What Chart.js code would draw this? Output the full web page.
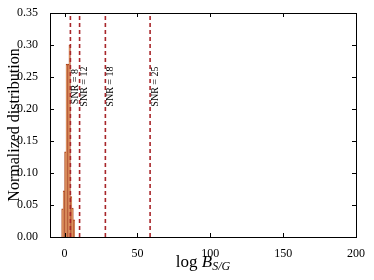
<!DOCTYPE html>
<html>
<head>
<meta charset="utf-8">
<script src="https://cdn.jsdelivr.net/npm/chart.js@4"></script>
<style>
  body { margin: 0; background: #fff; }
</style>
</head>
<body>
<canvas id="chart" width="374" height="280"></canvas>
<script>
// histogram bins (centre of bin, height)
const binCenters = [-1.5, -0.5, 0.5, 1.5, 2.5, 3.5, 4.5, 5.5, 6.5];
const binValues = [0.044, 0.072, 0.133, 0.27, 0.27, 0.30, 0.063, 0.045, 0.027];

// SNR threshold lines
const snrLabels = ["SNR = 8", "SNR = 12", "SNR = 18", "SNR = 25"];
const snrPositions = [4, 10.3, 28, 58.7];
const snrTextY = 0.235;

const xTicks = [0, 50, 100, 150, 200];
const yTicks = [0, 0.05, 0.1, 0.15, 0.2, 0.25, 0.3, 0.35];

const serif = "'Liberation Serif', 'DejaVu Serif', serif";
const lineColor = "#a8262a";

const datasets = [
  {
    type: "bar",
    data: binCenters.map((x, i) => ({ x: x, y: binValues[i] })),
    backgroundColor: "#d97a33",
    borderColor: "#a8401c",
    borderWidth: 0.8,
    barPercentage: 1,
    categoryPercentage: 1,
    order: 2,
  },
];
snrPositions.forEach((p) => {
  datasets.push({
    type: "line",
    data: [{ x: p, y: 0 }, { x: p, y: 0.35 }],
    borderColor: lineColor,
    borderWidth: 1.6,
    borderDash: [4, 3],
    pointRadius: 0,
    fill: false,
    order: 1,
  });
});

// inward ticks on all four sides, plus SNR labels and x title
const extras = {
  id: "extras",
  afterDraw(chart) {
    const ctx = chart.ctx;
    const a = chart.chartArea;
    const xs = chart.scales.x;
    const ys = chart.scales.y;
    ctx.save();
    ctx.strokeStyle = "#000";
    ctx.lineWidth = 1;
    ctx.beginPath();
    xTicks.forEach((v) => {
      const px = Math.round(xs.getPixelForValue(v)) + 0.5;
      ctx.moveTo(px, a.bottom); ctx.lineTo(px, a.bottom - 4);
      ctx.moveTo(px, a.top); ctx.lineTo(px, a.top + 4);
    });
    yTicks.forEach((v) => {
      const py = Math.round(ys.getPixelForValue(v)) + 0.5;
      ctx.moveTo(a.left, py); ctx.lineTo(a.left + 4, py);
      ctx.moveTo(a.right, py); ctx.lineTo(a.right - 4, py);
    });
    ctx.stroke();
    ctx.strokeRect(Math.round(a.left) + 0.5, Math.round(a.top) + 0.5,
      Math.round(a.right - a.left), Math.round(a.bottom - a.top));

    // SNR labels, rotated
    ctx.fillStyle = "#000";
    ctx.font = "10px " + serif;
    ctx.textAlign = "center";
    ctx.textBaseline = "middle";
    snrLabels.forEach((t, i) => {
      const px = xs.getPixelForValue(snrPositions[i]) + 5;
      const py = ys.getPixelForValue(snrTextY);
      ctx.save();
      ctx.translate(px, py);
      ctx.rotate(-Math.PI / 2);
      ctx.fillText(t, 0, 0);
      ctx.restore();
    });

    // x axis title: log B_{S/G}
    const cx = (a.left + a.right) / 2;
    const ty = 267;
    ctx.textAlign = "left";
    ctx.textBaseline = "alphabetic";
    const p1 = "log ";
    const p2 = "B";
    const p3 = "S/G";
    ctx.font = "17px " + serif;
    const w1 = ctx.measureText(p1).width;
    ctx.font = "italic 17px " + serif;
    const w2 = ctx.measureText(p2).width;
    ctx.font = "italic 12px " + serif;
    const w3 = ctx.measureText(p3).width;
    let x0 = cx - (w1 + w2 + w3) / 2;
    ctx.font = "17px " + serif;
    ctx.fillText(p1, x0, ty);
    x0 += w1;
    ctx.font = "italic 17px " + serif;
    ctx.fillText(p2, x0, ty);
    x0 += w2;
    ctx.font = "italic 12px " + serif;
    ctx.fillText(p3, x0, ty + 3);
    ctx.restore();
  },
};

new Chart(document.getElementById("chart"), {
  data: { datasets: datasets },
  options: {
    responsive: false,
    animation: false,
    layout: { padding: { top: 13, right: 18, bottom: 0, left: 0 } },
    plugins: { legend: { display: false }, tooltip: { enabled: false } },
    scales: {
      x: {
        type: "linear",
        min: -10,
        max: 200,
        offset: false,
        grid: { display: false },
        border: { display: false },
        afterBuildTicks: (s) => { s.ticks = xTicks.map((v) => ({ value: v })); },
        afterFit: (s) => { s.height = 43; },
        ticks: { color: "#000", font: { family: serif, size: 12 }, padding: 2, maxRotation: 0 },
      },
      y: {
        type: "linear",
        min: 0,
        max: 0.35,
        grid: { display: false },
        border: { display: false },
        afterBuildTicks: (s) => { s.ticks = yTicks.map((v) => ({ value: v })); },
        afterFit: (s) => { s.width = 50; },
        title: {
          display: true,
          text: "Normalized distribution",
          color: "#000",
          font: { family: serif, size: 16 },
          padding: { top: 5, bottom: 0 },
        },
        ticks: {
          color: "#000",
          font: { family: serif, size: 12 },
          padding: 4,
          callback: (v) => v.toFixed(2),
        },
      },
    },
  },
  plugins: [extras],
});
</script>
</body>
</html>
